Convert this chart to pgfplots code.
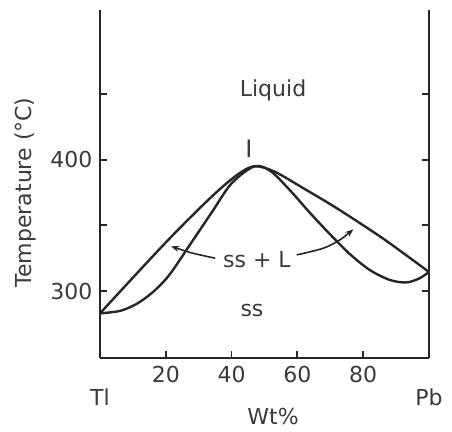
\documentclass[border=0pt]{standalone}
\usepackage{fontspec}
\setmainfont{DejaVu Sans}
\usepackage{pgfplots}
\pgfplotsset{compat=1.18}
\usetikzlibrary{arrows.meta}
\definecolor{ink}{HTML}{262626}
\definecolor{txt}{HTML}{3A3A3A}
\begin{document}
\fontsize{11}{13}\selectfont
\begin{tikzpicture}
\useasboundingbox (0,0) rectangle (226pt,216pt);
\begin{axis}[
  at={(50pt,37pt)}, anchor=south west,
  scale only axis, width=164.5pt, height=174pt,
  xmin=0, xmax=100, ymin=249, ymax=514,
  axis x line*=bottom, axis y line*=box,
  axis line style={ink, line width=1pt},
  tick align=inside, major tick length=3.5pt,
  tick style={ink, line width=0.9pt},
  xtick={20,40,60,80},
  ytick={300,350,400,450}, yticklabels={300,,400,},
  yticklabel pos=left,
  /pgf/number format/assume math mode=true,
  tick label style={font=\fontsize{11}{13}\selectfont, text=txt},
  ylabel={Temperature (°C)},
  ylabel style={at={(axis description cs:-0.228,0.476)}, anchor=center, text=txt},
  clip=false,
]
% liquidus
\addplot[ink, line width=1.2pt, smooth, tension=0.5] coordinates {
  (0,283) (20,337) (34,372) (42,389) (47,395) (53,391) (62,378) (72,363) (86,340) (100,314.5)};
% solidus
\addplot[ink, line width=1.2pt, smooth, tension=0.5] coordinates {
  (0,283) (6,284.8) (11,290) (16,299) (21,312) (27,334) (34,360) (40,382) (47,395)
  (52,391) (58,376) (64,359) (70,343) (76,328) (82,316) (88,308.5)
  (93,306.5) (97,309.5) (100,314.5)};
% arrows for ss + L
\addplot[ink, line width=0.8pt, smooth, -{Stealth[length=4pt,width=3pt]}] coordinates {
  (35,325) (27.9,329) (21.6,334)};
\addplot[ink, line width=0.8pt, smooth, -{Stealth[length=4pt,width=3pt]}] coordinates {
  (59.8,327.5) (67.9,332.6) (72.9,338.9) (77,347)};
\node[text=txt] at (axis cs:52.6,453) {Liquid};
\node[text=txt, font=\fontsize{12}{14}\rmfamily] at (axis cs:45.3,408) {I};
\node[text=txt] at (axis cs:47.7,324) {ss + L};
\node[text=txt] at (axis cs:46.2,285.5) {ss};
\node[text=txt] at (axis cs:0,249) [yshift=-19.5pt] {Tl};
\node[text=txt] at (axis cs:100,249) [yshift=-19.5pt] {Pb};
\node[text=txt] at (axis cs:52.6,249) [yshift=-29.5pt] {Wt\%};
\end{axis}
\end{tikzpicture}
\end{document}
